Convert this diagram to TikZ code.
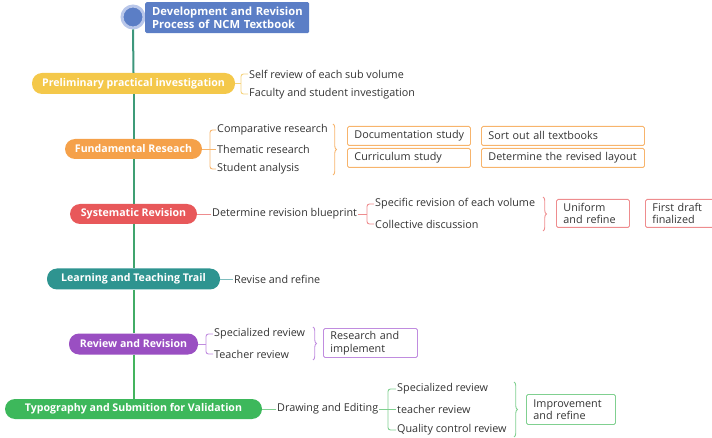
\documentclass[tikz,border=0pt]{standalone}
\usepackage{fontspec}
\setmainfont{Open Sans}
\usetikzlibrary{decorations.pathreplacing,calc}

\definecolor{inkgray}{HTML}{333333}
\definecolor{rootblue}{HTML}{5B7EC6}
\definecolor{halo}{HTML}{B9C7EA}
\definecolor{cyel}{HTML}{F4C84A}
\definecolor{lyel}{HTML}{F5D27C}
\definecolor{corg}{HTML}{F5A14A}
\definecolor{lorg}{HTML}{F7B46C}
\definecolor{cred}{HTML}{E8585A}
\definecolor{lred}{HTML}{EE8C8E}
\definecolor{cteal}{HTML}{2E9490}
\definecolor{lteal}{HTML}{7FBDBE}
\definecolor{cpur}{HTML}{9A4FC2}
\definecolor{lpur}{HTML}{C08CDF}
\definecolor{cgrn}{HTML}{3DB85B}
\definecolor{lgrn}{HTML}{80D090}
\definecolor{spA}{HTML}{3D977C}
\definecolor{spB}{HTML}{3E9B78}
\definecolor{spC}{HTML}{3F9F73}
\definecolor{spD}{HTML}{40A46D}
\definecolor{spE}{HTML}{42AC66}
\definecolor{spF}{HTML}{44B45E}

\tikzset{
  topic/.style={fill=#1, draw=none, text=white, rounded corners=10pt,
    font=\bfseries\fontsize{10.6}{12}\selectfont, minimum height=20pt, inner sep=0pt},
  leaf/.style={anchor=west, inner sep=1pt, text=inkgray,
    font=\fontsize{10.8}{12}\selectfont},
  link/.style={draw=#1, line width=0.9pt},
  bracket/.style={draw=#1, line width=0.9pt, rounded corners=2.5pt},
  grouper/.style={draw=#1, line width=0.9pt,
    decorate, decoration={brace, amplitude=3.5pt, aspect=0.5}},
  box/.style={draw=#1, line width=0.9pt, rounded corners=1.5pt, anchor=north west,
    inner xsep=7pt, inner ysep=0pt, text=inkgray, align=left,
    font=\fontsize{10.8}{12.5}\selectfont},
  spine/.style={draw=#1, line width=2pt},
}

\begin{document}
\begin{tikzpicture}[x=1pt, y=-1pt]
\useasboundingbox (0,0) rectangle (712,438);
\clip (0,0) rectangle (712,438);

% root and title
\node[circle, fill=rootblue, draw=halo, line width=3pt, minimum size=22pt, inner sep=0pt] (root) at (133,17) {};
\node[fill=rootblue, rounded corners=1.5pt, anchor=north west, minimum width=163pt, minimum height=31pt,
  text width=150pt, inner xsep=7pt, align=left, text=white,
  font=\bfseries\fontsize{11.2}{12.5}\selectfont] (title) at (145,2)
  {\mbox{Development and Revision}\\\mbox{Process of NCM Textbook}};

% main stages
\node[topic=cyel, minimum width=203pt, minimum height=21pt] (t1) at (133.5,83.5) {Preliminary practical investigation};
\node[topic=corg, minimum width=137pt] (t2) at (133.5,149) {Fundamental Reseach};
\node[topic=cred, minimum width=127pt] (t3) at (133.5,214) {Systematic Revision};
\node[topic=cteal, minimum width=173pt, minimum height=21pt] (t4) at (133.5,279) {Learning and Teaching Trail};
\node[topic=cpur, minimum width=129pt, minimum height=21pt] (t5) at (133.5,344) {Review and Revision};
\node[topic=cgrn, minimum width=257pt] (t6) at (133.5,409) {Typography and Submition for Validation};

% spine
\draw[spine=spA] (root.south) -- (t1.north);
\draw[spine=spB] (t1.south) -- (t2.north);
\draw[spine=spC] (t2.south) -- (t3.north);
\draw[spine=spD] (t3.south) -- (t4.north);
\draw[spine=spE] (t4.south) -- (t5.north);
\draw[spine=spF] (t5.south) -- (t6.north);

% stage 1
\coordinate (j1) at (241,83.5);
\node[leaf] (c11) at (248,74) {Self review of each sub volume};
\node[leaf] (c12) at (248,94) {Faculty and student investigation};
\draw[link=lyel] (t1.east) -- (j1);
\draw[bracket=lyel] (c11.west) -| (j1) |- (c12.west);

% stage 2
\coordinate (j2) at (210,149);
\node[leaf] (c21) at (216,130) {Comparative research};
\node[leaf] (c22) at (216,149) {Thematic research};
\node[leaf] (c23) at (216,169) {Student analysis};
\draw[link=lorg] (t2.east) -- (c22.west);
\draw[bracket=lorg] (c21.west) -| (j2) |- (c23.west);
\draw[grouper=lorg] (333,124) -- (333,175);
\node[box=lorg, minimum width=123pt, minimum height=19pt, text width=109pt] (b21) at (347,126) {\mbox{Documentation study}};
\node[box=lorg, minimum width=123pt, minimum height=19pt, text width=109pt] (b22) at (347,148) {\mbox{Curriculum study}};
\node[box=lorg, minimum width=163pt, minimum height=19pt, text width=149pt] (b23) at (481,126) {\mbox{Sort out all textbooks}};
\node[box=lorg, minimum width=163pt, minimum height=19pt, text width=149pt] (b24) at (481,148) {\mbox{Determine the revised layout}};

% stage 3
\node[leaf] (c3) at (211,214) {Determine revision blueprint};
\coordinate (j3) at (367,214);
\node[leaf] (c31) at (374,204) {Specific revision of each volume};
\node[leaf] (c32) at (374,224) {Collective discussion};
\draw[link=lred] (t3.east) -- (c3.west);
\draw[link=lred] (c3.east) -- (j3);
\draw[bracket=lred] (c31.west) -| (j3) |- (c32.west);
\draw[grouper=lred] (543,197) -- (543,231);
\node[box=lred, minimum width=73pt, minimum height=28pt, text width=59pt] (b31) at (556,199) {Uniform\\and refine};
\node[box=lred, minimum width=75pt, minimum height=28pt, text width=61pt] (b32) at (645,199) {First draft\\finalized};

% stage 4
\node[leaf] (c4) at (233,279) {Revise and refine};
\draw[link=lteal] (t4.east) -- (c4.west);

% stage 5
\coordinate (j5) at (206,344);
\node[leaf] (c51) at (213,334) {Specialized review};
\node[leaf] (c52) at (213,354) {Teacher review};
\draw[link=lpur] (t5.east) -- (j5);
\draw[bracket=lpur] (c51.west) -| (j5) |- (c52.west);
\draw[grouper=lpur] (313,327) -- (313,360);
\node[box=lpur, minimum width=94pt, minimum height=29pt, text width=80pt] (b5) at (323,328) {Research and\\implement};

% stage 6
\node[leaf] (c6) at (276,409) {Drawing and Editing};
\coordinate (j6) at (388,409);
\node[leaf] (c61) at (396,389) {Specialized review};
\node[leaf] (c62) at (396,409) {teacher review};
\node[leaf] (c63) at (396,430) {Quality control review};
\draw[link=lgrn] (t6.east) -- (c6.west);
\draw[link=lgrn] (c6.east) -- (c62.west);
\draw[bracket=lgrn] (c61.west) -| (j6) |- (c63.west);
\draw[grouper=lgrn] (514,382) -- (514,437);
\node[box=lgrn, minimum width=89pt, minimum height=30pt, text width=75pt] (b6) at (526,394) {Improvement\\and refine};
\end{tikzpicture}
\end{document}
